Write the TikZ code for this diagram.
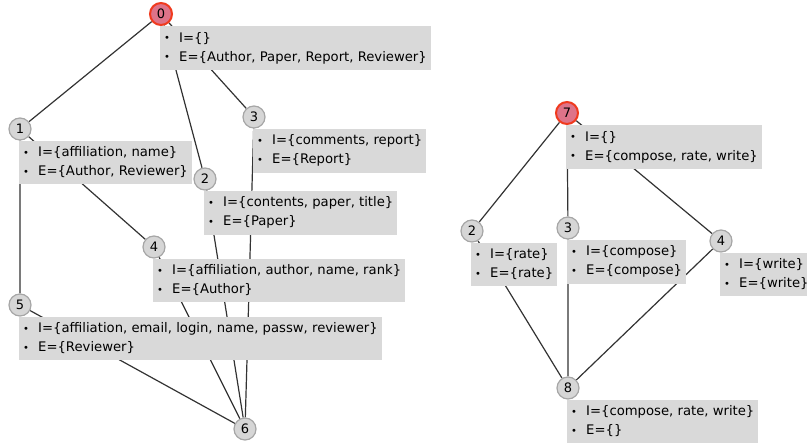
\documentclass[tikz,border=0pt]{standalone}
\usepackage{fontspec}
\setmainfont{DejaVu Sans}
\usepackage{tikz}
\usetikzlibrary{positioning,backgrounds}

\definecolor{boxgray}{HTML}{D9D9D9}
\definecolor{statefill}{HTML}{D6D6D6}
\definecolor{stateline}{HTML}{A6A6A6}
\definecolor{rootfill}{HTML}{DE7389}
\definecolor{rootline}{HTML}{F03A1E}
\definecolor{linkgray}{HTML}{333333}

\newcommand{\bul}{\makebox[15pt][l]{\raisebox{0.5pt}{\normalsize\textbullet}}}
\newcommand{\setinfo}[2]{\bul I=\{#1\}\\\bul E=\{#2\}}

\begin{document}
\begin{tikzpicture}[x=1pt,y=-1pt,
  state/.style={circle,draw=stateline,fill=statefill,line width=1.2pt,
    minimum size=22pt,inner sep=0pt,font=\fontsize{13}{13}\selectfont},
  root/.style={state,draw=rootline,fill=rootfill,line width=2pt},
  info/.style={anchor=north west,fill=boxgray,align=left,inner xsep=4pt,
    inner ysep=6pt,font=\fontsize{13.2}{19}\selectfont},
  link/.style={draw=linkgray,line width=1.2pt}]

  \useasboundingbox (0,0) rectangle (807,447);

  % left lattice
  \node[root]  (a0) at (161,14)  {0};
  \node[state] (a1) at (20,129)  {1};
  \node[state] (a2) at (205,179) {2};
  \node[state] (a3) at (254,117) {3};
  \node[state] (a4) at (154,247) {4};
  \node[state] (a5) at (20,305)  {5};
  \node[state] (a6) at (245,429) {6};

  % right lattice
  \node[root]  (b7) at (567,113) {7};
  \node[state] (b2) at (472,231) {2};
  \node[state] (b3) at (568,228) {3};
  \node[state] (b4) at (721,241) {4};
  \node[state] (b8) at (568,388) {8};

  \begin{pgfonlayer}{background}
  \path[link] (a0) -- (a1) (a0) -- (a2) (a0) -- (a3)
              (a1) -- (a5) (a1) -- (a4)
              (a2) -- (a6) (a3) -- (a6) (a4) -- (a6) (a5) -- (a6);
  \path[link] (b7) -- (b2) (b7) -- (b3) (b7) -- (b4)
              (b2) -- (b8) (b3) -- (b8) (b4) -- (b8);
  \end{pgfonlayer}

  \node[info] (i0) at ([xshift=-1pt]a0.south) {\setinfo{}{Author, Paper, Report, Reviewer}};
  \node[info] (i1) at ([xshift=-1pt]a1.south) {\setinfo{affiliation, name}{Author, Reviewer}};
  \node[info] (i3) at ([xshift=-1pt]a3.south) {\setinfo{comments, report}{Report}};
  \node[info] (i2) at ([xshift=-1pt]a2.south) {\setinfo{contents, paper, title}{Paper}};
  \node[info] (i4) at ([xshift=-1pt]a4.south) {\setinfo{affiliation, author, name, rank}{Author}};
  \node[info] (i5) at ([xshift=-1pt]a5.south) {\setinfo{affiliation, email, login, name, passw, reviewer}{Reviewer}};

  \node[info] (j7) at ([xshift=-1pt]b7.south) {\setinfo{}{compose, rate, write}};
  \node[info] (j2) at ([xshift=-1pt]b2.south) {\setinfo{rate}{rate}};
  \node[info] (j3) at ([xshift=-1pt]b3.south) {\setinfo{compose}{compose}};
  \node[info] (j4) at ([xshift=-1pt]b4.south) {\setinfo{write}{write}};
  \node[info] (j8) at ([xshift=-1pt]b8.south) {\setinfo{compose, rate, write}{}};
\end{tikzpicture}
\end{document}
